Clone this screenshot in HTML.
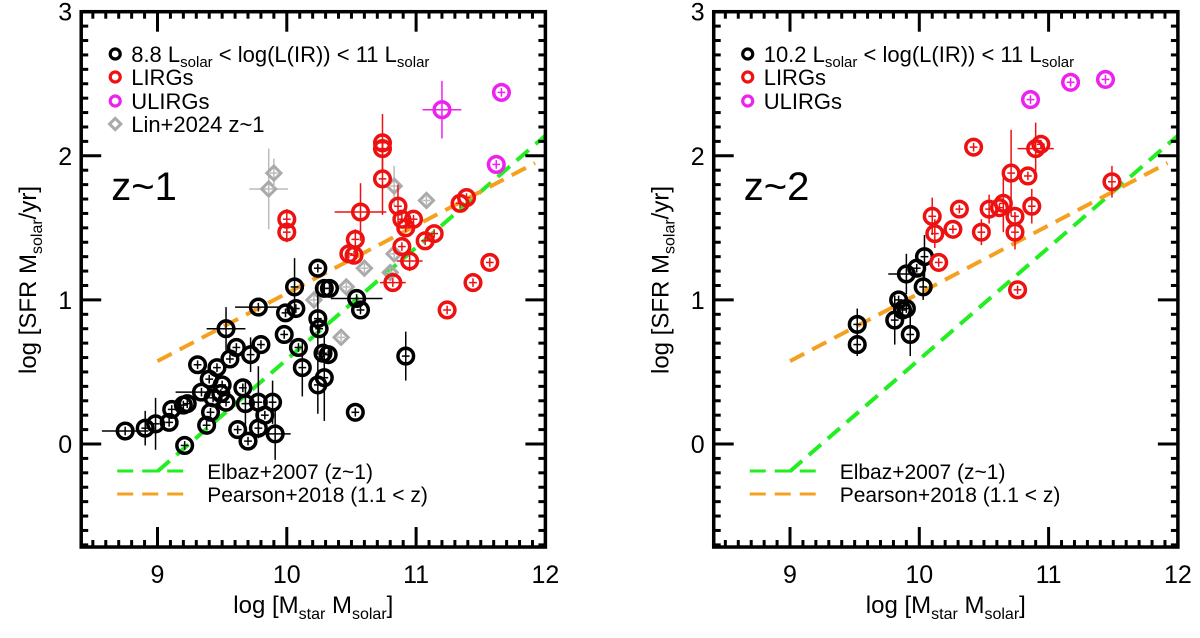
<!DOCTYPE html>
<html><head><meta charset="utf-8"><style>
html,body{margin:0;padding:0;background:#fff;}
svg text{font-family:"Liberation Sans",sans-serif;fill:#000;}
</style></head><body>
<svg id="s" width="1200" height="633" viewBox="0 0 1200 633" xmlns="http://www.w3.org/2000/svg"></svg>
<script>
var S=document.getElementById('s'),h='';
function P(x0){return {X:function(x){return x0+(x-9)*129.3},Y:function(y){return 444-y*144.1}};}
function panel(x0,blk,red,mag,gray,leg1,zl,hasLin){
 var p=P(x0),X=p.X,Y=p.Y,L=X(8.41),R=X(12),T=Y(3),B=Y(-0.715);
 h+='<line x1="'+X(9)+'" y1="'+Y(-0.19)+'" x2="'+X(12)+'" y2="'+Y(2.14)+'" stroke="#22ee22" stroke-width="4" stroke-dasharray="16,9"/>';
 h+='<line x1="'+X(9)+'" y1="'+Y(0.575)+'" x2="'+X(11.92)+'" y2="'+Y(1.95)+'" stroke="#f5a020" stroke-width="4" stroke-dasharray="16,9"/>';
 function pts(a,c,r){a.forEach(function(d){var cx=X(d[0]),cy=Y(d[1]);
  var xe=(d[2]||0.03)*129.3,ye=(d[3]||0.03)*144.1;
  h+='<line x1="'+(cx-xe)+'" y1="'+cy+'" x2="'+(cx+xe)+'" y2="'+cy+'" stroke="'+c+'" stroke-width="1.5"/>';
  h+='<line x1="'+cx+'" y1="'+(cy-ye)+'" x2="'+cx+'" y2="'+(cy+ye)+'" stroke="'+c+'" stroke-width="1.5"/>';
  h+='<circle cx="'+cx+'" cy="'+cy+'" r="'+(r||7.8)+'" fill="none" stroke="'+c+'" stroke-width="3.5"/>';});}
 gray.forEach(function(d){var cx=X(d[0]),cy=Y(d[1]);var xe=(d[2]||0.03)*129.3,ye=(d[3]||0.03)*144.1;
  h+='<line x1="'+(cx-xe)+'" y1="'+cy+'" x2="'+(cx+xe)+'" y2="'+cy+'" stroke="#bbb" stroke-width="1.5"/><line x1="'+cx+'" y1="'+(cy-ye)+'" x2="'+cx+'" y2="'+(cy+ye)+'" stroke="#bbb" stroke-width="1.5"/>';
  h+='<rect x="'+(cx-5)+'" y="'+(cy-5)+'" width="10" height="10" transform="rotate(45 '+cx+' '+cy+')" fill="none" stroke="#aaa" stroke-width="3"/>';});
 pts(blk,'#000');pts(red,'#ee1111');pts(mag,'#ee22ee');
 h+='<rect x="'+L+'" y="'+T+'" width="'+(R-L)+'" height="'+(B-T)+'" fill="none" stroke="#000" stroke-width="3.5"/>';
 for(var v=8.5;v<=12.001;v+=0.1){var vv=Math.round(v*10)/10,maj=Math.abs(vv-Math.round(vv))<0.01,len=maj?20:7,xx=X(vv);
  h+='<line x1="'+xx+'" y1="'+B+'" x2="'+xx+'" y2="'+(B-len)+'" stroke="#000" stroke-width="3"/><line x1="'+xx+'" y1="'+T+'" x2="'+xx+'" y2="'+(T+len)+'" stroke="#000" stroke-width="3"/>';
  if(maj&&vv>=9)h+='<text x="'+xx+'" y="583" font-size="25" text-anchor="middle">'+vv+'</text>';}
 for(var v=-0.7;v<=3.001;v+=0.1){var vv=Math.round(v*10)/10,maj=Math.abs(vv-Math.round(vv))<0.01,len=maj?20:7,yy=Y(vv);
  h+='<line x1="'+L+'" y1="'+yy+'" x2="'+(L+len)+'" y2="'+yy+'" stroke="#000" stroke-width="3"/><line x1="'+R+'" y1="'+yy+'" x2="'+(R-len)+'" y2="'+yy+'" stroke="#000" stroke-width="3"/>';
  if(maj)h+='<text x="'+(L-9)+'" y="'+(yy+9)+'" font-size="25" text-anchor="end">'+vv+'</text>';}
 var cxl=(L+R)/2;
 h+='<text x="'+cxl+'" y="613" font-size="24" text-anchor="middle">log [M<tspan font-size="16" dy="6">star</tspan><tspan dy="-6"> M</tspan><tspan font-size="16" dy="6">solar</tspan><tspan dy="-6">]</tspan></text>';
 h+='<text transform="translate('+(L-45)+',280) rotate(-90)" font-size="24" text-anchor="middle">log [SFR M<tspan font-size="16" dy="6">solar</tspan><tspan dy="-6">/yr]</tspan></text>';
 h+='<text x="'+(L+30)+'" y="200" font-size="40">'+zl+'</text>';
 var mx=L+34,tx=L+50;
 function lr(y,c,t,dia){ if(dia)h+='<rect x="'+(mx-4)+'" y="'+(y-4)+'" width="8" height="8" transform="rotate(45 '+mx+' '+y+')" fill="none" stroke="#aaa" stroke-width="3"/>';
  else h+='<circle cx="'+mx+'" cy="'+y+'" r="5" fill="none" stroke="'+c+'" stroke-width="3.2"/>';
  h+='<text x="'+tx+'" y="'+(y+8)+'" font-size="22">'+t+'</text>';}
 lr(54,'#000',leg1);lr(77,'#ee1111','LIRGs');lr(101,'#ee22ee','ULIRGs');if(hasLin)lr(124,'#aaa','Lin+2024 z~1',1);
 h+='<line x1="'+(L+36)+'" y1="471" x2="'+(L+110)+'" y2="471" stroke="#22ee22" stroke-width="3" stroke-dasharray="16,9"/>';
 h+='<line x1="'+(L+36)+'" y1="494" x2="'+(L+110)+'" y2="494" stroke="#f5a020" stroke-width="3" stroke-dasharray="16,9"/>';
 h+='<text x="'+(L+126)+'" y="479" font-size="21">Elbaz+2007 (z~1)</text><text x="'+(L+126)+'" y="502" font-size="21">Pearson+2018 (1.1 &lt; z)</text>';
}
var sub='<tspan font-size="15" dy="5">solar</tspan><tspan dy="-5">';
panel(157.5,
[[8.75,0.09,0.18],[8.905,0.11,0,0.12],[8.985,0.14,0,0.18],[9.09,0.15],[9.11,0.24],[9.2,0.27],[9.23,0.28],[9.21,-0.01],[9.31,0.55],[9.34,0.36,0.2],[9.38,0.13],[9.4,0.45],[9.41,0.22],[9.43,0.32],[9.46,0.53],[9.49,0.35],[9.5,0.41],[9.53,0.8,0.15,0.15],[9.53,0.29],[9.56,0.59],[9.61,0.67],[9.62,0.1],[9.66,0.39],[9.68,0.28,0,0.15],[9.7,0.02],[9.72,0.62,0,0.12],[9.78,0.95,0.18],[9.8,0.69],[9.78,0.29,0,0.25],[9.83,0.2],[9.78,0.11],[9.89,0.29,0,0.15],[9.91,0.07,0.12,0.18],[9.98,0.76],[9.99,0.91],[10.07,0.94],[10.09,0.67],[10.12,0.53,0,0.2],[10.06,1.09,0,0.2],[10.24,1.22],[10.24,0.87,0,0.25],[10.25,0.8],[10.28,0.63],[10.29,0.46,0,0.3],[10.24,0.41,0,0.2],[10.32,0.62],[10.33,1.08],[10.29,1.08],[10.54,1.01,0.2],[10.57,0.93],[10.53,0.22],[10.92,0.61,0,0.17]],
[[10.74,2.09,0,0.2],[10.74,2.05,0.05],[10.74,1.84,0,0.25],[10.0,1.56,0,0.07],[10.0,1.47,0,0.07],[10.57,1.61,0.2,0.2],[10.53,1.42,0,0.07],[10.52,1.31],[10.48,1.32],[10.86,1.65,0,0.15],[10.89,1.56],[10.92,1.5],[10.98,1.56],[10.89,1.37],[10.95,1.27,0.1,0.07],[10.82,1.12,0.1],[11.07,1.41],[11.14,1.46],[11.34,1.67],[11.39,1.71],[11.57,1.26],[11.44,1.12],[11.24,0.93]],
[[11.2,2.32,0.15,0.2],[11.66,2.44],[11.62,1.94]],
[[9.86,1.77,0.15,0.28],[9.9,1.88,0,0.1],[10.21,1.0],[10.46,1.09],[10.6,1.22],[10.42,0.74],[10.83,1.32],[10.8,1.19],[10.83,1.79,0,0.14],[11.08,1.69]],
'8.8 L'+sub+' &lt; log(L(IR)) &lt; 11 L</tspan>'+sub+'</tspan>','z~1',1);
panel(790,
[[9.52,0.83,0,0.11],[9.52,0.69,0,0.08],[9.81,0.86,0,0.17],[9.84,1.0],[9.87,0.93],[9.9,0.94],[9.93,0.76,0,0.15],[9.9,1.18,0.14,0.14],[9.98,1.22],[10.04,1.3,0,0.15],[10.03,1.09,0,0.09]],
[[10.1,1.58,0,0.13],[10.12,1.46,0,0.1],[10.15,1.26],[10.26,1.49],[10.31,1.63],[10.42,2.06],[10.48,1.47,0,0.09],[10.54,1.63,0,0.1],[10.62,1.64],[10.65,1.67,0,0.2],[10.71,1.88,0,0.3],[10.74,1.58],[10.74,1.47,0,0.12],[10.76,1.07],[10.84,1.86],[10.87,1.65,0,0.12],[10.9,2.05,0.14,0.18],[10.94,2.08],[11.49,1.82,0,0.11]],
[[10.86,2.39],[11.17,2.51],[11.44,2.53]],[],
'10.2 L'+sub+' &lt; log(L(IR)) &lt; 11 L</tspan>'+sub+'</tspan>','z~2',0);
S.innerHTML=h;
</script>
</body></html>
